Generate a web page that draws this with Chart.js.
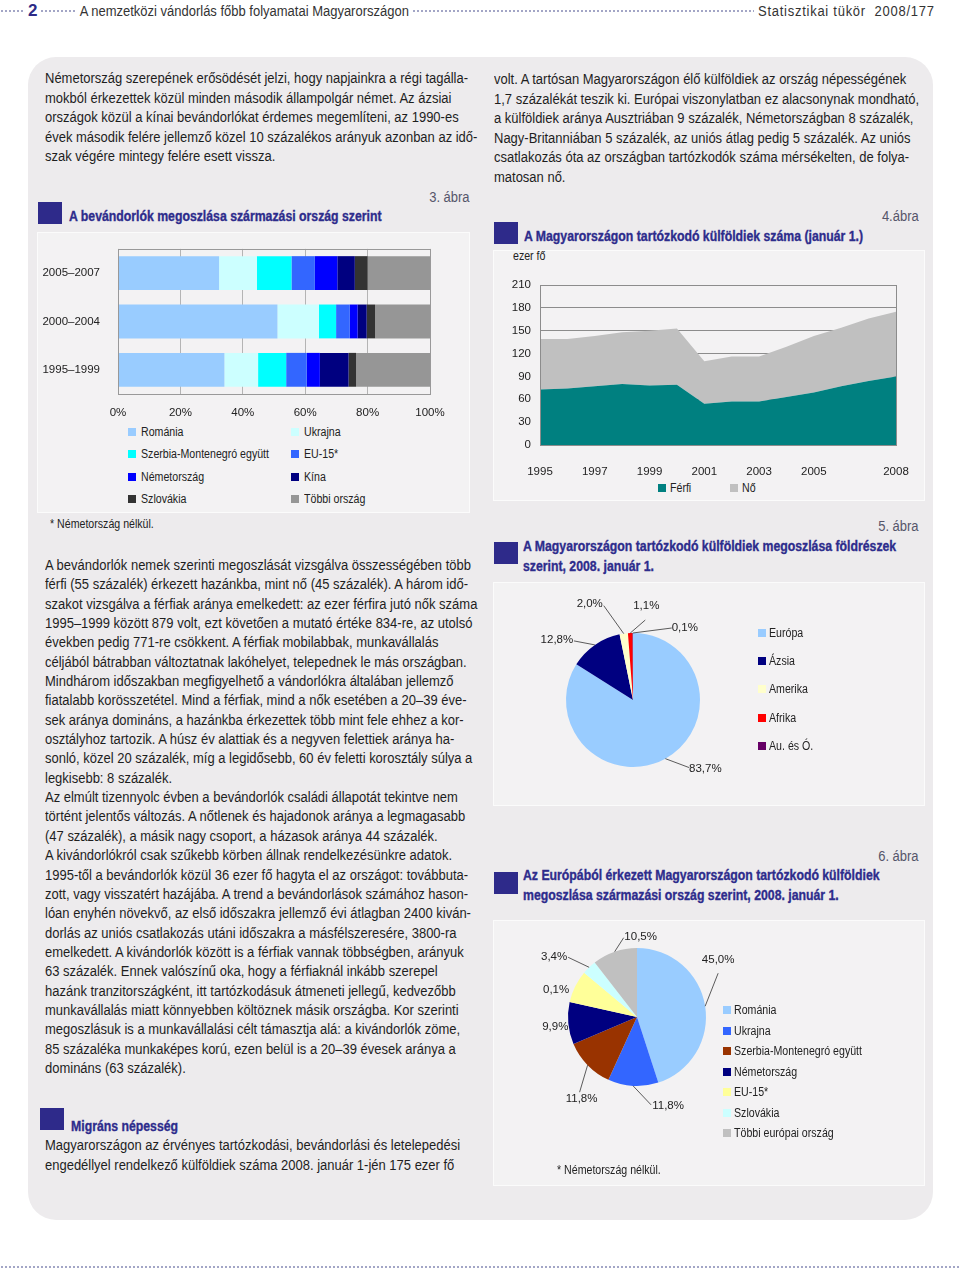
<!DOCTYPE html>
<html lang="hu">
<head>
<meta charset="utf-8">
<script src="https://cdn.jsdelivr.net/npm/chart.js@4.4.1/dist/chart.umd.min.js"></script>
<style>
  html, body { margin: 0; padding: 0; background: #fff; }
  body { width: 960px; height: 1274px; position: relative; overflow: hidden;
         font-family: 'Liberation Sans', Arial, sans-serif; color: #1e1e1e; }
  .dots { position: absolute; left: 0; width: 960px; height: 4px;
          background-image: radial-gradient(circle, #a3a6c6 1px, transparent 1.4px);
          background-size: 4px 4px; }
  .hd { position: absolute; background: #fff; white-space: nowrap; font-size: 14px; line-height: 18px; color: #333; padding: 0 4px; }
  #panel { position: absolute; left: 28px; top: 57px; width: 905px; height: 1163px; background: #EDEBED; border-radius: 28px; }
  .txt { position: absolute; font-size: 14px; line-height: 19.45px; white-space: nowrap; color: #1e1e1e; }
  .sq { position: absolute; width: 24px; height: 22px; background: #2E2A8A; }
  .ttl { position: absolute; font-weight: bold; font-size: 15px; line-height: 19.5px; color: #2D2C8C; white-space: nowrap;
         -webkit-text-stroke: 0.35px #2D2C8C; }
  .abra { position: absolute; font-size: 14px; line-height: 18px; color: #55556a; white-space: nowrap; }
  .box { position: absolute; background: #F3F2F3; border: 1px solid #FBFBFB; box-sizing: border-box; }
  canvas { position: absolute; }
  .lg { position: absolute; font-size: 12px; line-height: 14px; color: #222; white-space: nowrap; }
  .lg i { position: absolute; left: 0; top: 3px; width: 8px; height: 8px; }
  .lg span { display: inline-block; transform-origin: left top; }
  .note { position: absolute; font-size: 12px; line-height: 14px; color: #222; white-space: nowrap; transform-origin: left top; }
</style>
</head>
<body>

<div class="dots" style="top:9px"></div>
<div class="hd" style="left:24px;top:2px;font-weight:bold;font-size:17px;color:#2D2A87">2</div>
<div class="hd cond" style="left:76px;top:2px">A nemzetközi vándorlás főbb folyamatai Magyarországon</div>
<div class="hd" style="left:754px;top:2px;width:200px"><span class="cond" style="display:inline-block;letter-spacing:0.8px">Statisztikai tükör&nbsp; 2008/177</span></div>
<div class="dots" style="top:1265px"></div>

<div id="panel"></div>

<div class="txt cond" style="left:45px;top:69px;line-height:19.5px">Németország szerepének erősödését jelzi, hogy napjainkra a régi tagálla-<br>mokból érkezettek közül minden második állampolgár német. Az ázsiai<br>országok közül a kínai bevándorlókat érdemes megemlíteni, az 1990-es<br>évek második felére jellemző közel 10 százalékos arányuk azonban az idő-<br>szak végére mintegy felére esett vissza.</div>

<!-- 3. ábra -->
<div class="abra condr" style="right:490px;top:188px">3. ábra</div>
<div class="sq" style="left:38px;top:202px"></div>
<div class="ttl condb" style="left:69px;top:206px">A bevándorlók megoszlása származási ország szerint</div>
<div class="box" style="left:37px;top:232px;width:433px;height:281px"></div>
<canvas id="c3" width="433" height="193" style="left:37px;top:232px;width:433px;height:193px"></canvas>
<div class="note condn" style="left:50px;top:517px">* Németország nélkül.</div>

<div class="txt cond" style="left:45px;top:556px;line-height:19.35px">A bevándorlók nemek szerinti megoszlását vizsgálva összességében több<br>férfi (55 százalék) érkezett hazánkba, mint nő (45 százalék). A három idő-<br>szakot vizsgálva a férfiak aránya emelkedett: az ezer férfira jutó nők száma<br>1995–1999 között 879 volt, ezt követően a mutató értéke 834-re, az utolsó<br>években pedig 771-re csökkent. A férfiak mobilabbak, munkavállalás<br>céljából bátrabban változtatnak lakóhelyet, telepednek le más országban.<br>Mindhárom időszakban megfigyelhető a vándorlókra általában jellemző<br>fiatalabb korösszetétel. Mind a férfiak, mind a nők esetében a 20–39 éve-<br>sek aránya domináns, a hazánkba érkezettek több mint fele ehhez a kor-<br>osztályhoz tartozik. A húsz év alattiak és a negyven felettiek aránya ha-<br>sonló, közel 20 százalék, míg a legidősebb, 60 év feletti korosztály súlya a<br>legkisebb: 8 százalék.<br>Az elmúlt tizennyolc évben a bevándorlók családi állapotát tekintve nem<br>történt jelentős változás. A nőtlenek és hajadonok aránya a legmagasabb<br>(47 százalék), a másik nagy csoport, a házasok aránya 44 százalék.<br>A kivándorlókról csak szűkebb körben állnak rendelkezésünkre adatok.<br>1995-től a bevándorlók közül 36 ezer fő hagyta el az országot: továbbuta-<br>zott, vagy visszatért hazájába. A trend a bevándorlások számához hason-<br>lóan enyhén növekvő, az első időszakra jellemző évi átlagban 2400 kiván-<br>dorlás az uniós csatlakozás utáni időszakra a másfélszeresére, 3800-ra<br>emelkedett. A kivándorlók között is a férfiak vannak többségben, arányuk<br>63 százalék. Ennek valószínű oka, hogy a férfiaknál inkább szerepel<br>hazánk tranzitországként, itt tartózkodásuk átmeneti jellegű, kedvezőbb<br>munkavállalás miatt könnyebben költöznek másik országba. Kor szerinti<br>megoszlásuk is a munkavállalási célt támasztja alá: a kivándorlók zöme,<br>85 százaléka munkaképes korú, ezen belül is a 20–39 évesek aránya a<br>domináns (63 százalék).</div>

<div class="sq" style="left:40px;top:1108px"></div>
<div class="ttl condb" style="left:71px;top:1116px">Migráns népesség</div>
<div class="txt cond" style="left:45px;top:1136px;line-height:19.5px">Magyarországon az érvényes tartózkodási, bevándorlási és letelepedési<br>engedéllyel rendelkező külföldiek száma 2008. január 1-jén 175 ezer fő</div>

<div class="txt cond" style="left:494px;top:70px;line-height:19.5px">volt. A tartósan Magyarországon élő külföldiek az ország népességének<br>1,7 százalékát teszik ki. Európai viszonylatban ez alacsonynak mondható,<br>a külföldiek aránya Ausztriában 9 százalék, Németországban 8 százalék,<br>Nagy-Britanniában 5 százalék, az uniós átlag pedig 5 százalék. Az uniós<br>csatlakozás óta az országban tartózkodók száma mérsékelten, de folya-<br>matosan nő.</div>

<!-- 4. ábra -->
<div class="abra condr" style="right:41px;top:207px">4.ábra</div>
<div class="sq" style="left:494px;top:222px"></div>
<div class="ttl condb" style="left:524px;top:226px">A Magyarországon tartózkodó külföldiek száma (január 1.)</div>
<div class="box" style="left:493px;top:250px;width:432px;height:251px"></div>
<div class="note condn" style="left:513px;top:249px">ezer fő</div>
<canvas id="c4" width="432" height="226" style="left:493px;top:250px;width:432px;height:226px"></canvas>

<!-- 5. ábra -->
<div class="abra condr" style="right:41px;top:517px">5. ábra</div>
<div class="sq" style="left:494px;top:542px"></div>
<div class="ttl condb" style="left:523px;top:536px">A Magyarországon tartózkodó külföldiek megoszlása földrészek<br>szerint, 2008. január 1.</div>
<div class="box" style="left:493px;top:582px;width:432px;height:224px"></div>
<canvas id="c5" width="432" height="224" style="left:493px;top:582px;width:432px;height:224px"></canvas>

<!-- 6. ábra -->
<div class="abra condr" style="right:41px;top:847px">6. ábra</div>
<div class="sq" style="left:494px;top:872px"></div>
<div class="ttl condb" style="left:523px;top:865px">Az Európából érkezett Magyarországon tartózkodó külföldiek<br>megoszlása származási ország szerint, 2008. január 1.</div>
<div class="box" style="left:493px;top:920px;width:432px;height:266px"></div>
<canvas id="c6" width="432" height="266" style="left:493px;top:920px;width:432px;height:266px"></canvas>
<div class="note condn" style="left:557px;top:1163px">* Németország nélkül.</div>

<script>
// 3. ábra – származási ország szerinti megoszlás (%)
const periods = ['2005–2007', '2000–2004', '1995–1999'];
const countries = ['Románia', 'Ukrajna', 'Szerbia-Montenegró együtt', 'EU-15*', 'Németország', 'Kína', 'Szlovákia', 'Többi ország'];
const romania = [32.4, 51.1, 34.1];
const ukrajna = [12.1, 13.3, 10.8];
const szerbia = [11.1, 5.5, 9.0];
const eu15 = [7.5, 4.4, 6.6];
const nemetorszag = [7.2, 2.5, 4.2];
const kina = [5.6, 2.9, 9.2];
const szlovakia = [4.1, 2.7, 2.4];
const tobbi = [20.0, 17.6, 23.7];
const pctTicks = [0, 20, 40, 60, 80, 100];

// 4. ábra – külföldiek száma, ezer fő
const years = ['1995', '1996', '1997', '1998', '1999', '2000', '2001', '2002', '2003', '2004', '2005', '2006', '2007', '2008'];
const shownYears = ['1995', '1997', '1999', '2001', '2003', '2005', '2008'];
const ferfi = [73, 74, 77, 80, 78, 79, 54, 57, 57, 63, 69, 77, 84, 90];
const no = [66, 65, 66, 68, 72, 74, 56, 59, 59, 66, 74, 77, 82, 85];

// 5. ábra – földrészek szerint, %
const continents = ['Európa', 'Ázsia', 'Amerika', 'Afrika', 'Au. és Ó.'];
const continentShares = [83.7, 12.8, 2.0, 1.1, 0.1];

// 6. ábra – európai származási ország szerint, %
const euCountries = ['Románia', 'Ukrajna', 'Szerbia-Montenegró együtt', 'Németország', 'EU-15*', 'Szlovákia', 'Többi európai ország'];
const euShares = [45.0, 11.8, 11.8, 9.9, 7.6, 3.4, 10.5];
const euLabels = ['45,0%', '11,8%', '11,8%', '9,9%', '0,1%', '3,4%', '10,5%'];

try {
  const CHART_FONT = "'Liberation Sans', Arial, sans-serif";
  Chart.defaults.font.family = CHART_FONT;
  Chart.defaults.font.size = 11.5;
  Chart.defaults.color = '#222';
  Chart.defaults.animation = false;

  // the printed page uses a condensed face: squeeze Liberation Sans to the measured widths
  const measureCtx = document.createElement('canvas').getContext('2d');
  function condense(selector, sample, font, target, origin) {
    measureCtx.font = font;
    const k = target / measureCtx.measureText(sample).width;
    document.querySelectorAll(selector).forEach(el => {
      el.style.transform = 'scaleX(' + k.toFixed(4) + ')';
      el.style.transformOrigin = origin;
    });
    return k;
  }
  const kBody = condense('.cond', 'Németország szerepének erősödését jelzi, hogy napjainkra a régi tagálla-', "14px " + CHART_FONT, 423, 'left top');
  document.querySelectorAll('.condr').forEach(el => { el.style.transform = 'scaleX(' + kBody + ')'; el.style.transformOrigin = 'right top'; });
  condense('.condb', 'A bevándorlók megoszlása származási ország szerint', "bold 15px " + CHART_FONT, 313, 'left top');
  const kSmall = condense('.condn', 'Szerbia-Montenegró együtt', "12px " + CHART_FONT, 128, 'left top');

  // border round the plot area
  const plotBorder = {
    id: 'plotBorder',
    afterDraw(chart, args, opts) {
      const a = chart.chartArea, ctx = chart.ctx;
      ctx.save();
      ctx.strokeStyle = opts.color || '#888';
      ctx.lineWidth = 1;
      ctx.strokeRect(Math.round(a.left) + 0.5, Math.round(a.top) + 0.5, Math.round(a.right - a.left), Math.round(a.bottom - a.top));
      ctx.restore();
    }
  };

  // percent labels with leader lines, placed relative to each slice's outer midpoint
  const pieLabels = {
    id: 'pieLabels',
    afterDatasetsDraw(chart, args, opts) {
      const ctx = chart.ctx;
      const arcs = chart.getDatasetMeta(0).data;
      ctx.save();
      ctx.font = "11.5px " + CHART_FONT;
      ctx.fillStyle = '#222';
      ctx.strokeStyle = '#333';
      ctx.lineWidth = 0.8;
      ctx.textAlign = 'center';
      ctx.textBaseline = 'middle';
      arcs.forEach((arc, i) => {
        const p = opts.place[i];
        const mid = (arc.startAngle + arc.endAngle) / 2;
        const ax = arc.x + Math.cos(mid) * arc.outerRadius;
        const ay = arc.y + Math.sin(mid) * arc.outerRadius;
        if (p.lx !== undefined) {
          ctx.beginPath();
          ctx.moveTo(ax, ay);
          ctx.lineTo(ax + p.lx, ay + p.ly);
          ctx.stroke();
        }
        ctx.fillText(opts.text[i], ax + p.dx, ay + p.dy);
      });
      ctx.restore();
    }
  };

  function addLegend(names, colors, x0, y0, dx, dy, cols, gap) {
    names.forEach((n, i) => {
      const d = document.createElement('div');
      d.className = 'lg';
      d.style.left = (x0 + (i % cols) * dx) + 'px';
      d.style.top = (y0 + Math.floor(i / cols) * dy - 7) + 'px';
      d.style.paddingLeft = gap + 'px';
      d.innerHTML = '<i style="background:' + colors[i] + '"></i><span style="transform:scaleX(' + kSmall + ')">' + n + '</span>';
      document.body.appendChild(d);
    });
  }

  // 3. ábra
  const shares3 = [romania, ukrajna, szerbia, eu15, nemetorszag, kina, szlovakia, tobbi];
  const colors3 = ['#99CCFF', '#CCFFFF', '#00FFFF', '#3366FF', '#0000FF', '#000080', '#333333', '#969696'];
  new Chart(document.getElementById('c3'), {
    type: 'bar',
    data: {
      labels: periods,
      datasets: countries.map((c, i) => ({
        label: c, data: shares3[i], backgroundColor: colors3[i],
        borderWidth: 0, barPercentage: 0.7, categoryPercentage: 1
      }))
    },
    options: {
      indexAxis: 'y',
      responsive: false,
      layout: { padding: { top: 3, right: 40, left: 0, bottom: 0 } },
      plugins: { legend: { display: false }, tooltip: { enabled: false }, plotBorder: { color: '#999' } },
      scales: {
        x: {
          stacked: true, min: 0, max: 100,
          afterBuildTicks: s => { s.ticks = pctTicks.map(v => ({ value: v })); },
          ticks: { callback: v => v + '%', padding: 12, maxRotation: 0 },
          grid: { color: '#B4B4B4', drawTicks: false },
          border: { display: false },
          afterFit: s => { s.height = 31; }
        },
        y: {
          stacked: true,
          grid: { display: false },
          border: { display: false },
          ticks: { padding: 10 },
          afterFit: s => { s.width = 81; }
        }
      }
    },
    plugins: [plotBorder]
  });
  addLegend(countries, colors3, 128, 432, 163, 22.4, 2, 13);

  // 4. ábra
  const colors4 = ['#008080', '#C0C0C0'];
  new Chart(document.getElementById('c4'), {
    type: 'line',
    data: {
      labels: years,
      datasets: [
        { label: 'Férfi', data: ferfi, fill: 'origin', backgroundColor: colors4[0], borderWidth: 0, pointRadius: 0, tension: 0 },
        { label: 'Nő', data: no, fill: '-1', backgroundColor: colors4[1], borderWidth: 0, pointRadius: 0, tension: 0 }
      ]
    },
    options: {
      responsive: false,
      layout: { padding: { top: 35, right: 29, left: 0, bottom: 0 } },
      plugins: { legend: { display: false }, tooltip: { enabled: false }, plotBorder: { color: '#8c8c8c' } },
      scales: {
        x: {
          grid: { display: false },
          border: { display: false },
          ticks: { autoSkip: false, maxRotation: 0, padding: 12, callback: function (v) { const y = this.getLabelForValue(v); return shownYears.includes(y) ? y : ''; } },
          afterFit: s => { s.height = 31; }
        },
        y: {
          stacked: true, min: 0, max: 210,
          ticks: { stepSize: 30, padding: 9 },
          grid: { color: '#8c8c8c', drawTicks: false },
          border: { display: false },
          afterFit: s => { s.width = 47; }
        }
      }
    },
    plugins: [plotBorder]
  });
  addLegend(['Férfi', 'Nő'], colors4, 658, 488, 72, 0, 2, 12);

  // 5. ábra
  const colors5 = ['#99CCFF', '#000080', '#FFFFCC', '#FF0000', '#660066'];
  new Chart(document.getElementById('c5'), {
    type: 'pie',
    data: { labels: continents, datasets: [{ data: continentShares, backgroundColor: colors5, borderWidth: 0 }] },
    options: {
      responsive: false,
      layout: { padding: { left: 73, right: 225, top: 51, bottom: 39 } },
      plugins: {
        legend: { display: false }, tooltip: { enabled: false },
        pieLabels: {
          text: continentShares.map(v => v.toFixed(1).replace('.', ',') + '%'),
          place: [
            { dx: 40, dy: 10, lx: 24, ly: 9 },
            { dx: -38, dy: -5, lx: -21, ly: -4 },
            { dx: -34, dy: -30, lx: -20, ly: -28 },
            { dx: 16, dy: -27, lx: 15, ly: -13 },
            { dx: 52, dy: -5, lx: 39, ly: -5 }
          ]
        }
      }
    },
    plugins: [pieLabels]
  });
  addLegend(continents, colors5, 758, 633, 0, 28.2, 1, 11);

  // 6. ábra
  const colors6 = ['#99CCFF', '#3366FF', '#993300', '#000080', '#FFFF99', '#CCFFFF', '#C0C0C0'];
  new Chart(document.getElementById('c6'), {
    type: 'pie',
    data: { labels: euCountries, datasets: [{ data: euShares, backgroundColor: colors6, borderWidth: 0 }] },
    options: {
      responsive: false,
      layout: { padding: { left: 75, right: 219, top: 28, bottom: 100 } },
      plugins: {
        legend: { display: false }, tooltip: { enabled: false },
        pieLabels: {
          text: euLabels,
          place: [
            { dx: 13, dy: -46, lx: 13, ly: -33 },
            { dx: 35, dy: 20, lx: 18, ly: 19 },
            { dx: -6, dy: 34, lx: -8, ly: 27 },
            { dx: -13, dy: 4 },
            { dx: -19, dy: 3 },
            { dx: -35, dy: -10, lx: -21, ly: -10 },
            { dx: 26, dy: -15, lx: 9, ly: -14 }
          ]
        }
      }
    },
    plugins: [pieLabels]
  });
  addLegend(euCountries, colors6, 723, 1010, 0, 20.5, 1, 11);
} catch (e) {
  console.log(e);
}
</script>
</body>
</html>
